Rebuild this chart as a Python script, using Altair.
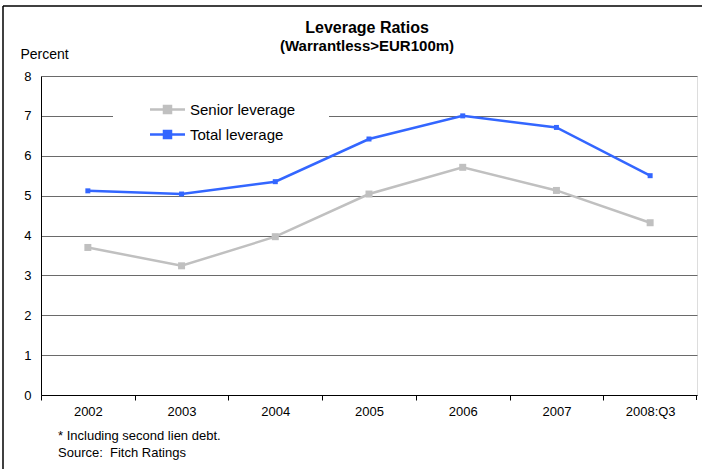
import altair as alt
import pandas as pd

periods = ["2002", "2003", "2004", "2005", "2006", "2007", "2008:Q3"]
senior = [3.70, 3.24, 3.97, 5.04, 5.71, 5.13, 4.32]
total = [5.12, 5.04, 5.35, 6.42, 7.00, 6.71, 5.50]
series_names = ["Senior leverage", "Total leverage"]
series_colors = ["#c0c0c0", "#3366ff"]
title_1 = "Leverage Ratios"
title_2 = "(Warrantless>EUR100m)"
footnote_1 = "* Including second lien debt."
footnote_2 = "Source:\u00a0 Fitch Ratings"

df = pd.DataFrame({
    "period": periods * 2,
    "value": senior + total,
    "series": [series_names[0]] * len(periods) + [series_names[1]] * len(periods),
})

FONT = "Liberation Sans"
W, H = 656, 319
step = W / len(periods)

x_enc = alt.X(
    "period:N",
    sort=periods,
    scale=alt.Scale(type="point", padding=0.5),
    axis=alt.Axis(
        title=None, labelAngle=0, labelFontSize=13, labelColor="#000",
        labelFont=FONT, domainColor="#000", tickColor="#000", tickSize=5,
        tickOffset=-step / 2, labelOffset=step / 2, labelPadding=5,
        grid=False,
    ),
)
y_enc = alt.Y(
    "value:Q",
    scale=alt.Scale(domain=[0, 8], nice=False),
    axis=alt.Axis(
        values=list(range(0, 9)), title="Percent", titleAngle=0,
        titleAlign="left", titleBaseline="middle", titleX=-21, titleY=-22,
        titleFontSize=14, titleFontWeight="normal", titleFont=FONT, titleColor="#000",
        labelFontSize=13, labelFont=FONT, labelColor="#000", ticks=False,
        labelPadding=10, domainColor="#000", gridColor="#6a6a6a", grid=True,
    ),
)
color_enc = alt.Color(
    "series:N",
    scale=alt.Scale(domain=series_names, range=series_colors),
    legend=alt.Legend(
        title="\u00a0", titleOrient="right", titlePadding=26, titleFontSize=4,
        orient="none", legendX=72, legendY=14,
        fillColor="white", padding=8, symbolOffset=35,
        symbolType="M-1.75,0H1.75M-0.35,-0.35H0.35V0.35H-0.35Z", symbolSize=400,
        symbolStrokeWidth=2.5, labelFontSize=15, labelFont=FONT,
        labelColor="#000", labelOffset=11, rowPadding=5,
    ),
)

lines = alt.Chart(df).mark_line(strokeWidth=2.5).encode(x=x_enc, y=y_enc, color=color_enc)
points = alt.Chart(df).mark_point(shape="square", filled=True, opacity=1).encode(
    x=x_enc, y=y_enc, color=color_enc,
    size=alt.condition(alt.datum.series == series_names[0], alt.value(49), alt.value(25)),
)

one = pd.DataFrame({"a": [0]})
frame_left = alt.Chart(one).mark_rule(color="#000", strokeWidth=1.5).encode(
    x=alt.value(-38), y=alt.value(-70), y2=alt.value(H + 80))
frame_top = alt.Chart(one).mark_rule(color="#000", strokeWidth=1.5).encode(
    x=alt.value(-38), x2=alt.value(W + 10), y=alt.value(-70))
end_tick = alt.Chart(one).mark_rule(color="#000", strokeWidth=1).encode(
    x=alt.value(W - 0.5), y=alt.value(H), y2=alt.value(H + 5))


def text_layer(txt, x, y, size, align="left", weight="normal"):
    return alt.Chart(one).mark_text(
        align=align, baseline="middle", fontSize=size, font=FONT, color="#000",
        fontWeight=weight,
    ).encode(text=alt.value(txt), x=alt.value(x), y=alt.value(y))


t1 = text_layer(title_1, W / 2 - 2, -48, 16, align="center", weight="bold")
t2 = text_layer(title_2, W / 2 - 2, -30, 15, align="center", weight="bold")
note1 = text_layer(footnote_1, 17, H + 41, 13)
note2 = text_layer(footnote_2, 17, H + 58, 13)

chart = alt.layer(lines, points, frame_left, frame_top, end_tick, t1, t2, note1, note2).properties(
    width=W, height=H,
    autosize=alt.AutoSizeParams(type="none"),
    padding={"left": 41, "top": 76, "right": 5, "bottom": 74},
).configure_view(stroke="#000", strokeWidth=1).configure(background="white")

chart.save("out.html", embed_options={"renderer": "svg", "actions": False})
